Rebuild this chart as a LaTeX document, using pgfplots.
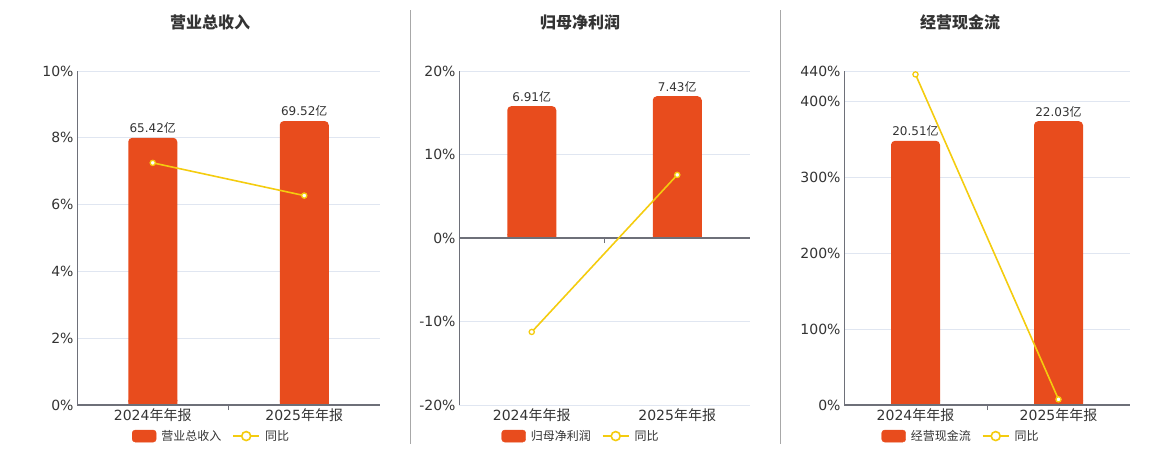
\documentclass[border=0pt]{standalone}
\usepackage{pgfplots}
\usepackage{pgfplotstable}
\pgfplotsset{compat=1.18}
\usepackage{fontspec}
\setmainfont{DejaVu Sans}
\newfontfamily\cjk{Noto Sans CJK SC}
\definecolor{barc}{HTML}{E84C1D}
\definecolor{linec}{HTML}{F4CC0F}
\definecolor{gridc}{HTML}{E0E6F1}
\definecolor{axisc}{HTML}{6E7079}
\definecolor{textc}{HTML}{333333}
\definecolor{sepc}{HTML}{A8A8A8}

\pgfplotsset{
  base/.style={scale only axis, width=#1, height=334pt, xmin=-0.5, xmax=1.5,
    /pgf/number format/assume math mode=true, clip=false},
  ax1/.style={base=#1, axis x line*=bottom, axis y line*=left, axis line style={-},
    x axis line style={draw=none}, y axis line style={draw=axisc, line width=0.8pt},
    major tick length=0pt, ymajorgrids, grid style={gridc, line width=0.8pt},
    tick label style={font=\fontsize{14}{14}\selectfont, text=textc},
    xtick={0,1}, xticklabels={{2024{\cjk 年年报}},{2025{\cjk 年年报}}}},
  ax2/.style={base=#1, axis x line=middle, axis line style={-},
    x axis line style={draw=axisc, line width=1.6pt}, hide y axis,
    xtick={-0.5,0.5,1.5}, xticklabel=\empty, major tick length=5pt, tick align=outside,
    xtick style={draw=axisc, line width=0.8pt},
    legend columns=2, legend cell align=left,
    legend style={draw=none, fill=none, inner sep=0pt, anchor=center,
      /tikz/every odd column/.append style={column sep=5pt},
      /tikz/every even column/.append style={column sep=11pt},
      nodes={inner sep=0pt, font=\cjk\fontsize{12}{12}\selectfont, text=textc}}},
  barplot/.style={ybar, bar width=49pt, fill=barc, draw=none, rounded corners=4pt,
    point meta=explicit,
    nodes near coords={\pgfmathprintnumber[fixed,precision=2,fixed zerofill]{\pgfplotspointmeta}{\cjk 亿}},
    every node near coord/.append style={font=\fontsize{12}{12}\selectfont, text=textc, inner sep=4pt}},
  barbase/.style={ybar, bar width=49pt, fill=barc, draw=none, forget plot},
  lineplot/.style={linec, line width=1.6pt, mark=*, mark size=2.6pt,
    mark options={fill=white, draw=linec, line width=1.3pt},
    legend image code/.code={
      \draw[linec, line width=1.6pt] (0pt,0pt) -- (26pt,0pt);
      \draw[linec, line width=1.6pt, fill=white] (13pt,0pt) circle (4.5pt);}},
  barlegend/.style={legend image code/.code={
      \fill[barc, rounded corners=3pt] (0pt,-6pt) rectangle (24pt,6pt);}},
}

\pgfplotstableread{
x v
0 65.42
1 69.52
}\revenue
\pgfplotstableread{
x v
0 6.91
1 7.43
}\profit
\pgfplotstableread{
x v
0 20.51
1 22.03
}\cash

\begin{document}
\begin{tikzpicture}
\useasboundingbox (0pt,0pt) rectangle (1160pt,-450pt);
\draw[sepc, line width=0.8pt] (410.5pt,-10pt) -- (410.5pt,-444pt);
\draw[sepc, line width=0.8pt] (780.5pt,-10pt) -- (780.5pt,-444pt);

\node[font=\cjk\bfseries\fontsize{16}{16}\selectfont, text=textc] at (210pt,-22pt) {营业总收入};
\node[font=\cjk\bfseries\fontsize{16}{16}\selectfont, text=textc] at (580pt,-22pt) {归母净利润};
\node[font=\cjk\bfseries\fontsize{16}{16}\selectfont, text=textc] at (960pt,-22pt) {经营现金流};

% ---------- Panel 1 ----------
\begin{axis}[ax1=303pt, at={(77pt,-405pt)}, anchor=south west,
  ymin=0, ymax=10, ytick={0,2,4,6,8,10},
  yticklabels={0\%,2\%,4\%,6\%,8\%,10\%}]
\addplot[barbase] table[x=x, y expr={min(\thisrow{v}*10/81.775,0.15)}] {\revenue};
\addplot[barplot] table[x=x, y expr=\thisrow{v}*10/81.775, meta=v] {\revenue};
\end{axis}
\begin{axis}[ax2=303pt, at={(77pt,-405pt)}, anchor=south west,
  ymin=0, ymax=10, legend style={at={(0.4406,-0.093)}}]
\addlegendimage{barlegend}
\addlegendentry{营业总收入}
\addplot[lineplot] table[x=x, y=g] {
x g
0 7.25
1 6.27
};
\addlegendentry{同比}
\end{axis}

% ---------- Panel 2 ----------
\begin{axis}[ax1=291pt, at={(459pt,-405pt)}, anchor=south west,
  ymin=-20, ymax=20, ytick={-20,-10,0,10,20},
  yticklabels={-20\%,-10\%,0\%,10\%,20\%}]
\addplot[barbase] table[x=x, y expr={min(\thisrow{v}*20/8.752,0.5)}] {\profit};
\addplot[barplot] table[x=x, y expr=\thisrow{v}*20/8.752, meta=v] {\profit};
\end{axis}
\begin{axis}[ax2=291pt, at={(459pt,-405pt)}, anchor=south west,
  ymin=-20, ymax=20, legend style={at={(0.4158,-0.093)}}]
\addlegendimage{barlegend}
\addlegendentry{归母净利润}
\addplot[lineplot] table[x=x, y=g] {
x g
0 -11.25
1 7.56
};
\addlegendentry{同比}
\end{axis}

% ---------- Panel 3 ----------
\begin{axis}[ax1=286pt, at={(844pt,-405pt)}, anchor=south west,
  ymin=0, ymax=440, ytick={0,100,200,300,400,440},
  yticklabels={0\%,100\%,200\%,300\%,400\%,440\%}]
\addplot[barbase] table[x=x, y expr={min(\thisrow{v}*440/25.93,6)}] {\cash};
\addplot[barplot] table[x=x, y expr=\thisrow{v}*440/25.93, meta=v] {\cash};
\end{axis}
\begin{axis}[ax2=286pt, at={(844pt,-405pt)}, anchor=south west,
  ymin=0, ymax=440, legend style={at={(0.4056,-0.093)}}]
\addlegendimage{barlegend}
\addlegendentry{经营现金流}
\addplot[lineplot] table[x=x, y=g] {
x g
0 435.5
1 7.4
};
\addlegendentry{同比}
\end{axis}
\end{tikzpicture}
\end{document}
